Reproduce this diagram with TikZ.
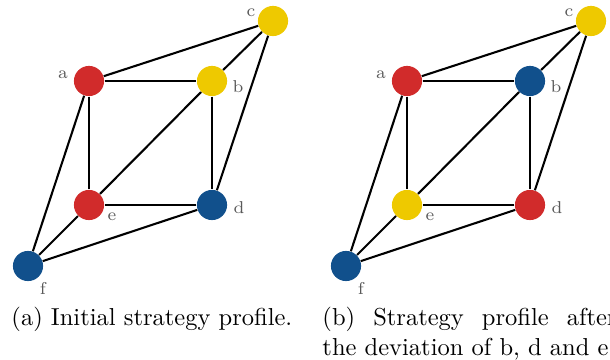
\documentclass[tikz,border=0pt]{standalone}
\definecolor{pred}{HTML}{D12B2B}
\definecolor{pyellow}{HTML}{EEC900}
\definecolor{pblue}{HTML}{11508C}
\tikzset{
  player/.style={circle, inner sep=0pt, minimum size=12.3pt},
  tag/.style={font=\scriptsize, text=black!65, inner sep=0pt},
  tie/.style={line width=0.85pt}
}
\begin{document}
\begin{tikzpicture}[x=0.408pt, y=-0.408pt]
  \useasboundingbox (0,0) rectangle (610,360);
  \foreach \p/\dx/\cb/\cd/\ce in {1/0/pyellow/pblue/pred, 2/318/pblue/pred/pyellow} {
    \foreach \v/\x/\y/\c/\lx/\ly in {a/89/81/pred/-26/-6, b/212/81/\cb/26/6, c/273/21/pyellow/-22/-8, d/212/205/\cd/27/3, e/89/205/\ce/23/12, f/28/266/pblue/15/22} {
      \node[player, fill=\c] (\v\p) at (\dx+\x,\y) {};
      \node[tag] (\v\p-tag) at (\dx+\x+\lx,\y+\ly) {\v};
    }
    \foreach \s/\t in {a/b, a/c, a/e, a/f, b/c, b/d, b/e, c/d, d/e, d/f, e/f}
      \draw[tie] (\s\p) -- (\t\p);
  }
  \node[anchor=north west, inner sep=0pt] (capA) at (11,307) {(a) Initial strategy profile.};
  \node[anchor=north west, inner sep=0pt, text width=120pt, align=justify] (capB) at (322,307) {(b) Strategy profile after\linebreak the deviation of b, d and e.};
\end{tikzpicture}
\end{document}
